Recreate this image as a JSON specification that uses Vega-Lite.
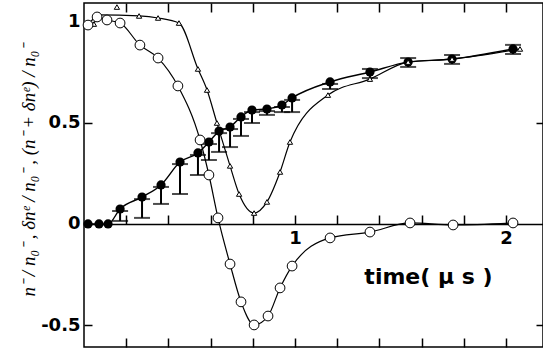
{
  "$schema": "https://vega.github.io/schema/vega-lite/v6.json",
  "width": 459,
  "height": 344,
  "autosize": {"type": "none"},
  "padding": {"left": 84, "top": 3, "right": 0, "bottom": 7},
  "background": "white",
  "config": {
    "view": {"stroke": "black", "strokeWidth": 1.5},
    "axis": {
      "domainColor": "black",
      "domainWidth": 1.5,
      "tickColor": "black",
      "tickWidth": 1.5,
      "grid": false,
      "labelColor": "black",
      "titleColor": "black",
      "labelFont": "DejaVu Sans",
      "labelFontWeight": "bold",
      "labelFontSize": 18
    }
  },
  "datasets": {
    "open": [
      {"t": 0.019, "v": 0.983}, {"t": 0.062, "v": 1.023}, {"t": 0.109, "v": 1.008}, {"t": 0.171, "v": 0.993},
      {"t": 0.265, "v": 0.884}, {"t": 0.351, "v": 0.82}, {"t": 0.445, "v": 0.682}, {"t": 0.55, "v": 0.415},
      {"t": 0.592, "v": 0.242}, {"t": 0.635, "v": 0.03}, {"t": 0.692, "v": -0.198}, {"t": 0.744, "v": -0.385},
      {"t": 0.806, "v": -0.499}, {"t": 0.872, "v": -0.455}, {"t": 0.929, "v": -0.316}, {"t": 0.986, "v": -0.208},
      {"t": 1.166, "v": -0.069}, {"t": 1.355, "v": -0.04}, {"t": 1.545, "v": 0.005}, {"t": 1.749, "v": -0.005},
      {"t": 2.033, "v": 0.005}
    ],
    "tri": [
      {"t": 0.047, "v": 0.988, "outlier": false}, {"t": 0.071, "v": 1.033, "outlier": false},
      {"t": 0.156, "v": 1.072, "outlier": true}, {"t": 0.261, "v": 1.028, "outlier": false},
      {"t": 0.351, "v": 1.018, "outlier": false}, {"t": 0.45, "v": 0.993, "outlier": false},
      {"t": 0.54, "v": 0.766, "outlier": false}, {"t": 0.583, "v": 0.662, "outlier": false},
      {"t": 0.63, "v": 0.499, "outlier": false}, {"t": 0.692, "v": 0.287, "outlier": false},
      {"t": 0.735, "v": 0.148, "outlier": false}, {"t": 0.806, "v": 0.054, "outlier": false},
      {"t": 0.867, "v": 0.109, "outlier": false}, {"t": 0.929, "v": 0.257, "outlier": false},
      {"t": 0.976, "v": 0.405, "outlier": false}, {"t": 1.156, "v": 0.637, "outlier": false},
      {"t": 1.355, "v": 0.716, "outlier": false}, {"t": 1.536, "v": 0.8, "outlier": false},
      {"t": 1.744, "v": 0.815, "outlier": false}, {"t": 2.066, "v": 0.865, "outlier": false}
    ],
    "filled": [
      {"t": 0.019, "v": 0.0}, {"t": 0.071, "v": 0.0}, {"t": 0.114, "v": 0.0},
      {"t": 0.171, "v": 0.074, "lo": 0.015, "hi": 0.064},
      {"t": 0.275, "v": 0.133, "lo": 0.03, "hi": 0.123},
      {"t": 0.365, "v": 0.193, "lo": 0.099, "hi": 0.183},
      {"t": 0.455, "v": 0.306, "lo": 0.148, "hi": 0.296},
      {"t": 0.54, "v": 0.351, "lo": 0.242, "hi": 0.341},
      {"t": 0.592, "v": 0.405, "lo": 0.316, "hi": 0.395},
      {"t": 0.64, "v": 0.459, "lo": 0.356, "hi": 0.449},
      {"t": 0.692, "v": 0.479, "lo": 0.38, "hi": 0.469},
      {"t": 0.744, "v": 0.529, "lo": 0.435, "hi": 0.519},
      {"t": 0.796, "v": 0.563, "lo": 0.499, "hi": 0.553},
      {"t": 0.867, "v": 0.568, "lo": 0.539, "hi": 0.558},
      {"t": 0.938, "v": 0.588, "lo": 0.553, "hi": 0.578},
      {"t": 0.986, "v": 0.623, "lo": 0.553, "hi": 0.613},
      {"t": 1.166, "v": 0.702, "lo": 0.667, "hi": 0.692},
      {"t": 1.355, "v": 0.751, "lo": 0.721, "hi": 0.766},
      {"t": 1.536, "v": 0.8, "lo": 0.776, "hi": 0.82},
      {"t": 1.744, "v": 0.815, "lo": 0.791, "hi": 0.835},
      {"t": 2.033, "v": 0.865, "lo": 0.84, "hi": 0.885}
    ]
  },
  "resolve": {"axis": {"x": "independent", "y": "independent"}},
  "layer": [
    {
      "data": {"name": "open"},
      "mark": {"type": "line", "interpolate": "monotone", "color": "black", "strokeWidth": 1.2},
      "encoding": {
        "x": {"field": "t", "type": "quantitative", "scale": {"domain": [0, 2.175], "nice": false, "zero": false},
          "axis": {"orient": "bottom", "values": [0.2, 0.4, 0.6, 0.8, 1, 1.2, 1.4, 1.6, 1.8, 2], "tickSize": -9, "labels": false, "domain": false, "title": null}},
        "y": {"field": "v", "type": "quantitative", "scale": {"domain": [-0.608, 1.092], "nice": false, "zero": false},
          "axis": {"orient": "left", "values": [-0.5, 0, 0.5, 1], "tickSize": -8, "labelPadding": 12, "domain": false,
            "labelExpr": "datum.value == 1 ? '1' : datum.value == 0 ? '0' : datum.value == 0.5 ? '0.5' : '-0.5'",
            "title": "n⁻ / n₀⁻ , δnᵉ / n₀⁻ , (n⁻ + δnᵉ) / n₀⁻",
            "titleFont": "Liberation Serif", "titleFontStyle": "italic", "titleFontWeight": "normal", "titleFontSize": 19,
            "titleAngle": -90, "titleAlign": "center", "titleBaseline": "middle", "titleX": -56, "titleY": 167}}
      }
    },
    {
      "data": {"name": "tri"},
      "transform": [{"filter": "!datum.outlier"}],
      "mark": {"type": "line", "interpolate": "monotone", "color": "black", "strokeWidth": 1.2},
      "encoding": {
        "x": {"field": "t", "type": "quantitative",
          "axis": {"orient": "top", "values": [0.2, 0.4, 0.6, 0.8, 1, 1.2, 1.4, 1.6, 1.8, 2], "tickSize": -9, "labels": false, "domain": false, "title": null}},
        "y": {"field": "v", "type": "quantitative",
          "axis": {"orient": "right", "values": [-0.5, 0.5], "tickSize": -7, "labels": false, "domain": false, "title": null}}
      }
    },
    {
      "data": {"name": "filled"},
      "mark": {"type": "line", "interpolate": "monotone", "color": "black", "strokeWidth": 1.4},
      "encoding": {
        "x": {"field": "t", "type": "quantitative",
          "axis": {"orient": "bottom", "offset": -123, "values": [0.2, 0.4, 0.6, 0.8, 1, 1.2, 1.4, 1.6, 1.8, 2], "tickSize": -9, "labelPadding": 14,
            "labelExpr": "datum.value == 1 ? '1' : datum.value == 2 ? '2' : ''",
            "title": "time( μ s )", "titleFont": "DejaVu Sans", "titleFontWeight": "bold", "titleFontSize": 22,
            "titleAlign": "center", "titleBaseline": "middle", "titleX": 344, "titleY": 52}},
        "y": {"field": "v", "type": "quantitative", "axis": null}
      }
    },
    {
      "data": {"name": "filled"},
      "transform": [{"filter": "isValid(datum.lo)"}],
      "mark": {"type": "rule", "color": "black", "strokeWidth": 2},
      "encoding": {
        "x": {"field": "t", "type": "quantitative", "axis": null},
        "y": {"field": "lo", "type": "quantitative", "axis": null},
        "y2": {"field": "v"}
      }
    },
    {
      "data": {"name": "filled"},
      "transform": [{"filter": "isValid(datum.lo)"}],
      "mark": {"type": "tick", "orient": "horizontal", "color": "black", "size": 16, "thickness": 2},
      "encoding": {
        "x": {"field": "t", "type": "quantitative", "axis": null},
        "y": {"field": "lo", "type": "quantitative", "axis": null}
      }
    },
    {
      "data": {"name": "filled"},
      "transform": [{"filter": "isValid(datum.hi)"}],
      "mark": {"type": "tick", "orient": "horizontal", "color": "black", "size": 16, "thickness": 2},
      "encoding": {
        "x": {"field": "t", "type": "quantitative", "axis": null},
        "y": {"field": "hi", "type": "quantitative", "axis": null}
      }
    },
    {
      "data": {"name": "filled"},
      "mark": {"type": "circle", "color": "black", "size": 85, "opacity": 1},
      "encoding": {
        "x": {"field": "t", "type": "quantitative", "axis": null},
        "y": {"field": "v", "type": "quantitative", "axis": null}
      }
    },
    {
      "data": {"name": "tri"},
      "mark": {"type": "point", "shape": "triangle-up", "size": 28, "fill": "white", "stroke": "black", "strokeWidth": 1, "opacity": 1, "filled": false},
      "encoding": {
        "x": {"field": "t", "type": "quantitative", "axis": null},
        "y": {"field": "v", "type": "quantitative", "axis": null}
      }
    },
    {
      "data": {"name": "open"},
      "mark": {"type": "circle", "size": 95, "fill": "white", "stroke": "black", "strokeWidth": 1, "opacity": 1},
      "encoding": {
        "x": {"field": "t", "type": "quantitative", "axis": null},
        "y": {"field": "v", "type": "quantitative", "axis": null}
      }
    }
  ]
}
